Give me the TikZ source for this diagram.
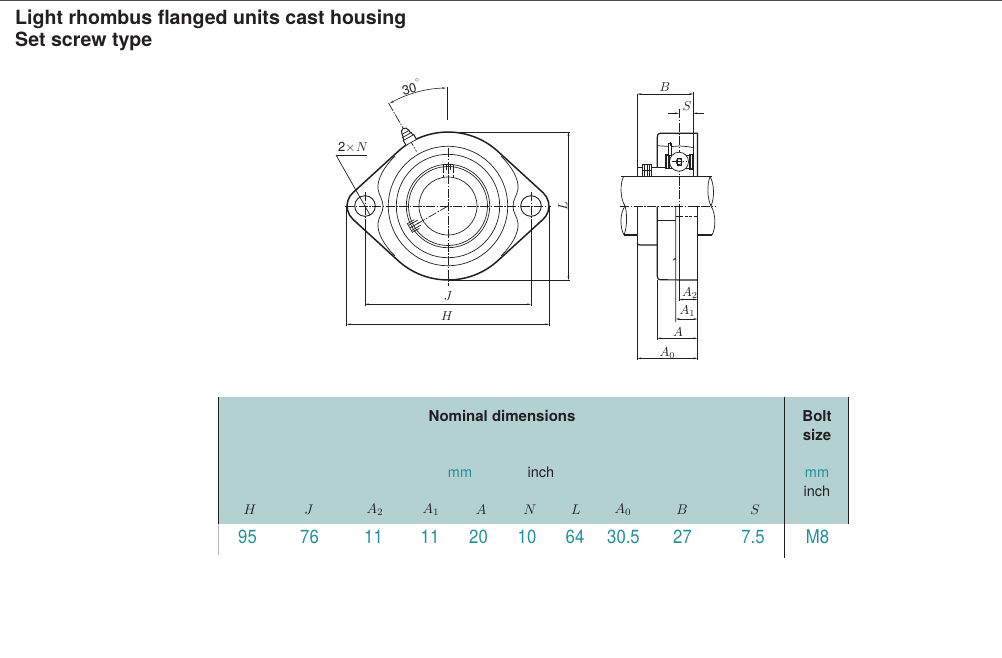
\documentclass[tikz,border=0pt]{standalone}
\usepackage[no-math]{fontspec}
\setmainfont{TeX Gyre Heros}
\newfontfamily\numfont[FakeStretch=0.88]{TeX Gyre Heros}
\usetikzlibrary{arrows.meta}
\definecolor{headfill}{HTML}{B3D1D1}
\definecolor{tealtext}{HTML}{1F9299}
\definecolor{inktext}{HTML}{231F20}
\begin{document}
\begin{tikzpicture}[x=1pt, y=1pt,
        main line/.style={draw=inktext, line width=1.2pt},
        thin line/.style={draw=inktext, line width=0.7pt},
        center line/.style={draw=inktext, line width=0.7pt, dash pattern=on 9pt off 1.5pt on 1.5pt off 1.5pt},
        hidden line/.style={draw=inktext, line width=0.7pt, dash pattern=on 3pt off 1.5pt},
        dim line/.style={draw=inktext, line width=0.6pt, {Stealth[length=4pt,width=1.8pt]}-{Stealth[length=4pt,width=1.8pt]}},
        dim label/.style={font=\fontsize{10}{12}\selectfont, scale=1.3, transform shape, inner sep=0pt, text=inktext},
        head label/.style={font=\fontsize{10}{12}\selectfont, scale=1.4, transform shape, inner sep=0pt, text=inktext},
        value label/.style={font=\fontsize{19}{20}\numfont, inner sep=0pt, anchor=base, text=tealtext},
        table text/.style={font=\fontsize{14.5}{16}\selectfont, inner sep=0pt, anchor=base, text=inktext},
        table bold/.style={font=\fontsize{15}{16}\selectfont\bfseries, inner sep=0pt, anchor=base, text=inktext},
        title text/.style={font=\fontsize{19.6}{22}\selectfont\bfseries, inner sep=0pt, anchor=base west, text=inktext}]

        \useasboundingbox (0,0) rectangle (1002,-657);
        \draw[draw=inktext!80, line width=1.2pt] (0,-0.5) -- (1002,-0.5);

        \node[title text] (title) at (15,-24) {Light rhombus flanged units cast housing};
        \node[title text] (subtitle) at (15,-46) {Set screw type};

        \begin{scope}[shift={(448,-206)}]
          \path[main line, line width=1.5pt] (49.9,54.6) arc[start angle=47.6, end angle=132.4, radius=74]
            -- (-95.1,13.3) arc[start angle=132.4, end angle=227.6, radius=18]
            -- (-49.9,-54.6) arc[start angle=227.6, end angle=312.4, radius=74]
            -- (95.1,-13.3) arc[start angle=-47.6, end angle=47.6, radius=18] -- cycle;
          \foreach \sx in {-1,1} \foreach \sy in {-1,1}
            \draw[thin line, xscale=\sx, yscale=\sy] (53,50) .. controls (64,39) and (71,27) .. (70,17)
              .. controls (69,10) and (65,7) .. (65,0);
          \foreach \rad in {29,39.5,41.7,51.7,59.7}
            \draw[thin line] (0,0) circle[radius=\rad];
          \foreach \hx in {-83,83}
            \draw[thin line, line width=0.9pt] (\hx,0) circle[radius=10.3];
          \foreach \hx in {-83,83}
            \draw[center line] (\hx,14) -- (\hx,-14);

          \draw[center line] (-103,0) -- (103,0);
          \draw[center line] (0,58) -- (0,-80);
          \draw[center line] (0,0) -- (210:36);
          \draw[thin line] (-0.8,119) -- (-0.8,86);
          \draw[center line] (120:119) -- (120:63);

          \begin{scope}[rotate=210]
            \draw[thin line] (38,-5) -- (44,-5) -- (44,5) -- (38,5);
            \draw[thin line] (33,-3) -- (44,-3) (33,0) -- (44,0) (33,3) -- (44,3);
            \draw[thin line] (36,-5) -- (38,-5) (36,5) -- (38,5);
          \end{scope}
          \draw[thin line, line width=1pt] (-5,41.5) -- (5,41.5);
          \draw[thin line] (-5,41.5) -- (-5,36) (5,41.5) -- (5,36) (-2,41.5) -- (-2,36) (2,41.5) -- (2,36);
          \draw[hidden line] (-5,36) -- (-5,29) (5,36) -- (5,29) (0,36) -- (0,29);

          \begin{scope}[rotate=30]
            \draw[main line, line width=1pt, fill=white] (-6,74) -- (-6,79) -- (-5,80) -- (-5,82) -- (-4,83) -- (-4,85)
              .. controls (-3.5,91) and (3.5,91) .. (4,85) -- (4,83) -- (5,82) -- (5,80) -- (6,79) -- (6,74);
            \draw[thin line] (-6,79) -- (6,79) (-5,82) -- (5,82) (-4,85) -- (4,85);
          \end{scope}

          \draw[thin line] (0,74) -- (122,74);
          \draw[thin line] (0,-74) -- (122,-74);
          \draw[dim line] (120.5,74) -- (120.5,-74);
          \node[dim label, rotate=90] (L) at (115,0) {$L$};

          \draw[thin line] (-83,-14) -- (-83,-100);
          \draw[thin line] (83,-14) -- (83,-100);
          \draw[dim line] (-83,-98.3) -- (83,-98.3);
          \node[dim label] (J) at (0,-90.5) {$J$};

          \draw[thin line] (-101.3,0) -- (-101.3,-120);
          \draw[thin line] (101.3,0) -- (101.3,-120);
          \draw[dim line] (-101.3,-118.3) -- (101.3,-118.3);
          \node[dim label] (H) at (-1,-110) {$H$};

          \draw[dim line] (91:118) arc[start angle=91, end angle=119.5, radius=118];
          \node[dim label, rotate=15] (angle) at (-36.5,119.5) {30\raisebox{1ex}{\fontsize{5}{5}\selectfont$^\circ$}};

          \draw[thin line] (-112,51) -- (-81,51);
          \draw[thin line] (-112,51) -- (-78,-9);
          \node[dim label] (holes) at (-95,59) {2$\times$\hspace{0.5pt}$N$};
        \end{scope}

        \path[main line] (657.3,-167.7) -- (657.3,-137) .. controls (657.3,-134.5) and (658.5,-133.3) .. (660,-133.3) -- (697.5,-133.3) -- (697.5,-176.7);
        \path[main line] (637.3,-176.7) -- (637.3,-167.7) -- (657.3,-167.7) (651.7,-167.7) -- (666,-167.7);
        \draw[thin line] (657.3,-145.7) .. controls (664,-146) and (670,-147) .. (679,-146) .. controls (684,-146) and (690,-147) .. (693.3,-147.5);
        \draw[thin line] (637.3,-94) -- (637.3,-176.7);
        \draw[thin line] (693.3,-91.5) -- (693.3,-176.7);
        \draw[dim line] (637.3,-94) -- (693.3,-94);
        \node[dim label] (B) at (665,-87.5) {$B$};
        \draw[thin line, -{Stealth[length=4pt,width=1.8pt]}] (668.3,-113.3) -- (679,-113.3);
        \draw[thin line, -{Stealth[length=4pt,width=1.8pt]}] (704.3,-113.3) -- (693.3,-113.3);
        \node[dim label] (S) at (687,-106.5) {$S$};
        \draw[center line] (679,-109) -- (679,-206);

        \draw[main line, fill=white, line width=1pt] (642.3,-164.3) rectangle (651.7,-176.7);
        \draw[thin line] (647,-164.3) -- (647,-176.7) (642.3,-170.5) -- (651.7,-170.5) (644.5,-164.3) -- (644.5,-176.7) (649.5,-164.3) -- (649.5,-176.7);
        \draw[thin line] (669.5,-155) -- (690,-155) (669.5,-168.3) -- (690,-168.3);
        \draw[thin line, fill=white] (679,-161.7) circle[radius=9.5];
        \draw[thin line] (679,-161.7) circle[radius=3];
        \draw[center line] (672,-161.7) -- (686,-161.7);
        \draw[thin line] (677,-158) rectangle (681,-165);
        \draw[main line] (666,-155) rectangle (669,-168.3);
        \draw[main line] (690,-154.5) rectangle (692.8,-169);
        \draw[thin line, fill=white] (668.5,-143.5) -- (671.5,-143.5) -- (671.5,-155) -- (668.5,-155) -- cycle;
        \draw[main line, line width=1pt] (670,-142) -- (670,-146);

        \draw[main line] (620.5,-176.7) -- (712,-176.7);
        \draw[thin line] (623.5,-176.7) .. controls (620,-184) and (620,-198) .. (625,-206);
        \draw[thin line] (625,-206) .. controls (619.5,-214) and (620,-228) .. (624,-235);
        \draw[thin line] (625,-206) .. controls (627.5,-214) and (627,-228) .. (624,-235);
        \draw[thin line] (710,-176.7) .. controls (707,-184) and (707,-198) .. (711,-206);
        \draw[thin line] (710,-176.7) .. controls (714.5,-184) and (714.5,-198) .. (711,-206);
        \draw[thin line] (711,-206) .. controls (716,-214) and (716,-228) .. (712,-235);
        \draw[center line] (620,-206.3) -- (715,-206.3);
        \path[main line] (624,-235) -- (637.3,-235) (697.5,-235) -- (712,-235);

        \path[main line] (637.3,-206.3) -- (637.3,-360);
        \path[main line] (637.3,-243) .. controls (637.3,-244.5) and (638,-245) .. (640,-245) -- (657.3,-245);
        \path[main line] (657.3,-206.3) -- (657.3,-276) .. controls (657.3,-278.5) and (658.5,-279.8) .. (660,-279.8) -- (697.5,-280);
        \path[main line] (697.5,-206.3) -- (697.5,-360);
        \draw[main line, line width=0.9pt] (657.3,-220.5) -- (675.7,-220.5);
        \draw[main line, line width=0.9pt] (675.7,-206.3) -- (675.7,-258) -- (673.5,-260) (675.7,-258) -- (675.7,-322);
        \draw[main line, line width=0.9pt] (679.3,-206.3) -- (679.3,-301);
        \draw[hidden line, line width=0.9pt] (675.7,-216) -- (697.5,-216);
        \draw[thin line] (657.3,-280) -- (657.3,-340);

        \draw[dim line] (679.3,-299.5) -- (697.5,-299.5);
        \node[dim label] (A2) at (690,-293) {$A_{\mathrm{2}}$};
        \draw[dim line] (675.7,-319) -- (697.5,-319);
        \node[dim label] (A1) at (687.5,-311.5) {$A_{\mathrm{1}}$};
        \draw[dim line] (657.3,-338.3) -- (697.5,-338.3);
        \node[dim label] (A) at (678,-332.5) {$A$};
        \draw[dim line] (637.3,-358.3) -- (697.5,-358.3);
        \node[dim label] (A0) at (667.5,-353) {$A_{\mathrm{0}}$};

        \fill[headfill] (218.5,-397) rectangle (848.5,-524);
        \draw[draw=inktext, line width=1pt] (218.5,-397) -- (218.5,-524);
        \draw[draw=inktext!30, line width=0.8pt] (218.5,-524) -- (218.5,-555);
        \draw[draw=inktext, line width=1pt] (784.5,-396.5) -- (784.5,-558);
        \draw[draw=inktext, line width=1pt] (848.5,-396.5) -- (848.5,-524);

        \node[table bold] (nominal) at (502,-421) {Nominal dimensions};
        \node[table text, text=tealtext] (mm) at (460,-477) {mm};
        \node[table text] (inch) at (541,-477) {inch};
        \node[table bold] (bolt) at (817,-421) {Bolt};
        \node[table bold] (size) at (817,-440) {size};
        \node[table text, text=tealtext] (bolt mm) at (817,-477) {mm};
        \node[table text] (bolt inch) at (817,-496) {inch};

        \foreach \name/\xpos/\head in {1/250/H, 2/309/J, 3/375/A_{\mathrm{2}}, 4/431/A_{\mathrm{1}}, 5/481/A, 6/530/N, 7/576/L, 8/623/A_{\mathrm{0}}, 9/682/B, 10/755/S}
          \node[head label] (head\name) at (\xpos,-510) {$\head$};

        \foreach \name/\xpos/\val in {1/247.5/95, 2/309.5/76, 3/373.5/11, 4/430/11, 5/478.5/20, 6/527/10, 7/575/64, 8/623.5/30.5, 9/682.5/27, 10/753/7.5, 11/817.5/M8}
          \node[value label] (val\name) at (\xpos,-543.5) {\val};
\end{tikzpicture}
\end{document}
